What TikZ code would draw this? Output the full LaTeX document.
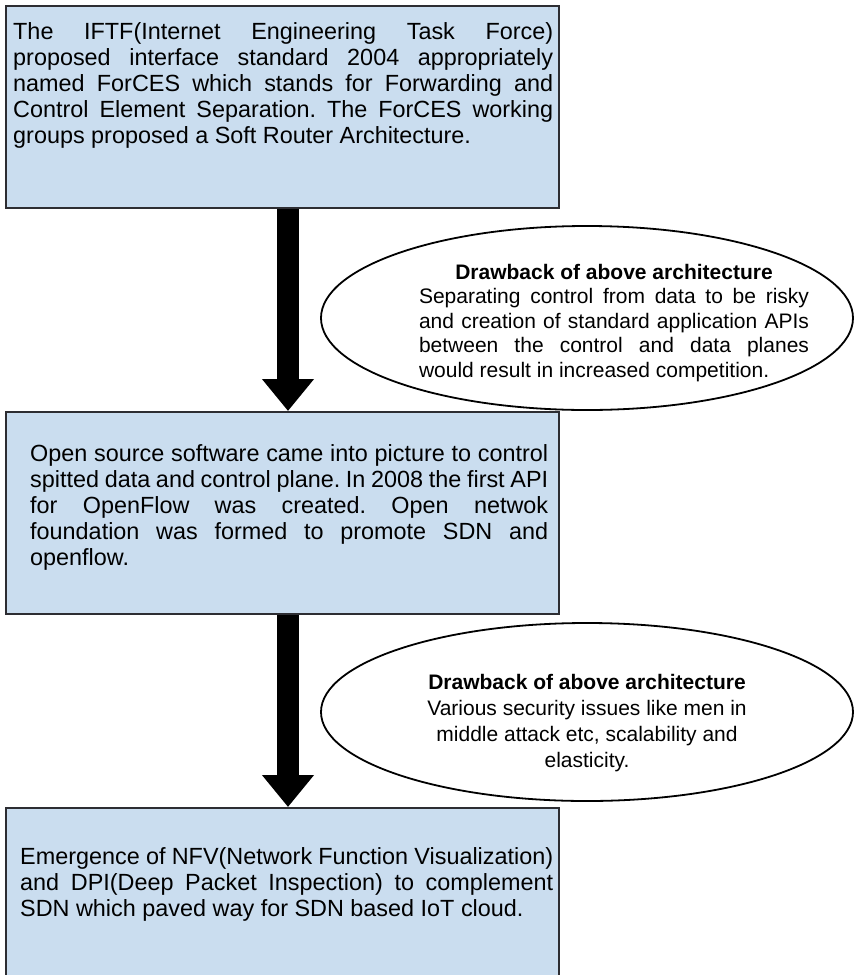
\documentclass[tikz,border=0pt]{standalone}
\usepackage{fontspec}
\setmainfont{Liberation Sans}
\usetikzlibrary{arrows.meta,shapes.geometric}
\definecolor{boxfill}{RGB}{202,221,239}
\definecolor{boxline}{RGB}{45,45,50}
\tikzset{
  x=1pt, y=-1pt,
  stagebox/.style={draw=boxline, fill=boxfill, line width=2pt, inner sep=0pt, anchor=north west},
  stagetext/.style={anchor=north west, inner sep=0pt, align=justify,
    font=\fontsize{23.4}{26}\selectfont},
  notebubble/.style={draw=black, line width=1.8pt, ellipse, inner sep=0pt},
  notetext/.style={inner sep=0pt, font=\fontsize{21}{24.5}\selectfont},
  flowarrow/.style={line width=22pt, -{Triangle[width=50pt,length=32pt]}, black}
}
\frenchspacing
\begin{document}
\begin{tikzpicture}
\useasboundingbox (0,0) rectangle (855,975);
\clip (0,0) rectangle (855,975);
\fill[white] (0,0) rectangle (855,975);

% stage boxes
\node[stagebox, minimum width=553pt, minimum height=202pt] (s1) at (5,5) {};
\node[stagebox, minimum width=553pt, minimum height=202pt] (s2) at (5,411) {};
\node[stagebox, minimum width=553pt, minimum height=200pt] (s3) at (5,807) {};

% stage texts
\node[stagetext, text width=540pt] (t1) at (13,22)
  {The IFTF(Internet Engineering Task Force)\linebreak
   proposed interface standard 2004 appropriately\linebreak
   named ForCES which stands for Forwarding and\linebreak
   Control Element Separation. The ForCES working\linebreak
   groups proposed a Soft Router Architecture.};
\node[stagetext, text width=518pt] (t2) at (30,444)
  {Open source software came into picture to control\linebreak
   spitted data and control plane. In 2008 the first API\linebreak
   for OpenFlow was created. Open netwok\linebreak
   foundation was formed to promote SDN and\linebreak
   openflow.};
\node[stagetext, text width=533pt] (t3) at (20,847)
  {Emergence of NFV(Network Function Visualization)\linebreak
   and DPI(Deep Packet Inspection) to complement\linebreak
   SDN which paved way for SDN based IoT cloud.};

% drawback notes
\node[notebubble, minimum width=532pt, minimum height=184pt] (e1) at (587,318) {};
\node[notetext, align=justify, text width=390pt] (n1) at (614,323)
  {{\centering\bfseries Drawback of above architecture\par}
   Separating control from data to be risky\linebreak
   and creation of standard application APIs\linebreak
   between the control and data planes\linebreak
   would result in increased competition.};
\node[notebubble, minimum width=532pt, minimum height=178pt] (e2) at (587,712) {};
\node[notetext, align=center, font=\fontsize{21}{26}\selectfont] (n2) at (587,723)
  {{\bfseries Drawback of above architecture}\\Various security issues like men in\\middle attack etc, scalability and\\elasticity.};

% flow arrows
\draw[flowarrow] (s1.south -| 288,0) -- (s2.north -| 288,0);
\draw[flowarrow] (s2.south -| 288,0) -- (s3.north -| 288,0);
\end{tikzpicture}
\end{document}
